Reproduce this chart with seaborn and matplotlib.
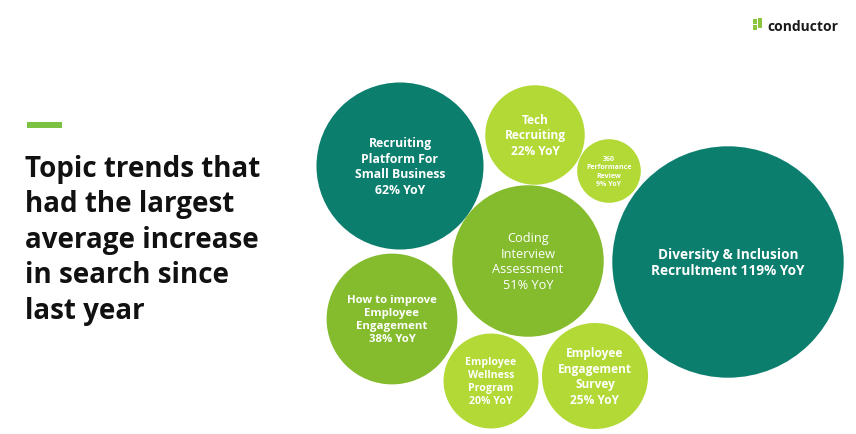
import numpy as np
import pandas as pd
import matplotlib
import matplotlib.pyplot as plt
import seaborn as sns
from matplotlib.patches import Rectangle

matplotlib.use("Agg")

# Data
topics = [
    "Recruiting\nPlatform For\nSmall Business",
    "Tech\nRecruiting",
    "360\nPerformance\nReview",
    "Diversity & Inclusion\nRecrultment",
    "Coding\nInterview\nAssessment",
    "How to improve\nEmployee\nEngagement",
    "Employee\nWellness\nProgram",
    "Employee\nEngagement\nSurvey",
]
yoy = [62, 22, 9, 119, 51, 38, 20, 25]
tier = ["top", "low", "low", "top", "mid", "mid", "low", "low"]

# Packed bubble layout (pixel space of the slide)
bubble_x = [400, 535, 609, 728, 528, 392, 491, 595]
bubble_y = [167, 136, 172, 263, 262, 320, 382, 377]

title_lines = ["Topic trends that", "had the largest", "average increase",
               "in search since", "last year"]

colors = {"top": "#0b7e6e", "mid": "#84bc2e", "low": "#b2d935"}

df = pd.DataFrame({"x": bubble_x, "y": bubble_y, "yoy": yoy, "tier": tier,
                   "topic": topics})

W, H, DPI = 856, 435, 100
fig = plt.figure(figsize=(W / DPI, H / DPI), dpi=DPI)
ax = fig.add_axes([0, 0, 1, 1])
ax.set_xlim(0, W)
ax.set_ylim(H, 0)
ax.axis("off")

# bubble area proportional to YoY (about 112 px^2 per percent)
k_px = 112.5
pt_per_px = 72 / DPI
s_max = (2 * np.sqrt(k_px * max(yoy)) * pt_per_px) ** 2
sns.scatterplot(data=df, x="x", y="y", hue="tier", palette=colors,
                size="yoy", sizes=(0, s_max), size_norm=(0, max(yoy)),
                linewidth=0, legend=False, alpha=1, ax=ax)

font = "Open Sans"
label_style = {
    0: dict(size=8.8, weight="bold"),
    1: dict(size=8.6, weight="bold"),
    2: dict(size=5.0, weight="bold"),
    3: dict(size=9.8, weight="bold"),
    4: dict(size=9.2, weight="normal"),
    5: dict(size=8.2, weight="bold"),
    6: dict(size=7.6, weight="bold"),
    7: dict(size=8.6, weight="bold"),
}
for i, row in df.iterrows():
    sep = " " if i == 3 else "\n"
    ax.text(row["x"], row["y"], f"{row['topic']}{sep}{row['yoy']}% YoY",
            ha="center", va="center", color="white", family=font,
            fontsize=label_style[i]["size"], fontweight=label_style[i]["weight"],
            linespacing=1.25, multialignment="center")

# Title block
ax.add_patch(Rectangle((27, 123), 35, 6, color="#7cc242", lw=0))
for j, line in enumerate(title_lines):
    ax.text(25, 177 + 35.5 * j, line, ha="left", va="baseline", family=font,
            fontsize=20, fontweight="bold", color="#111111")

# Logo
for (lx, ly) in [(753, 20), (758, 24), (753, 26), (758, 19)]:
    ax.add_patch(Rectangle((lx, ly), 4.5, 4.5, color="#8cc63f", lw=0))
ax.text(767, 31, "conductor", ha="left", va="baseline", family=font,
        fontsize=10, fontweight="bold", color="#1a1a1a")

fig.savefig("out.png", dpi=DPI, facecolor="white")
